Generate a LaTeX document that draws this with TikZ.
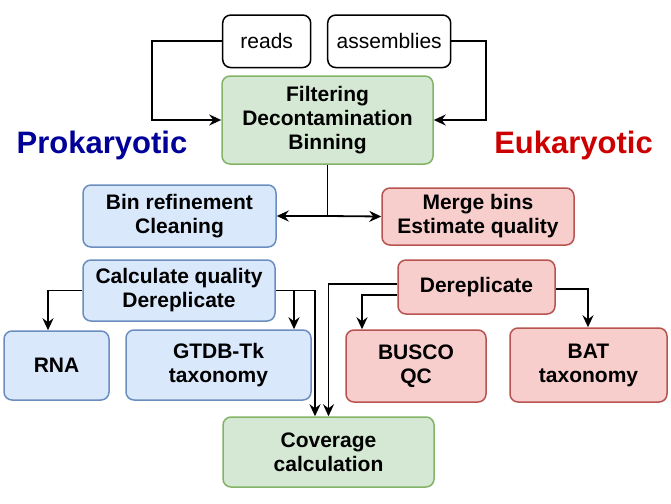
\documentclass[tikz,border=0pt]{standalone}
\usepackage{fontspec}
\setmainfont{Liberation Sans}
\usetikzlibrary{arrows.meta}
\definecolor{bfill}{HTML}{DAE8FC}\definecolor{bline}{HTML}{6C8EBF}
\definecolor{gfill}{HTML}{D5E8D4}\definecolor{gline}{HTML}{82B366}
\definecolor{rfill}{HTML}{F8CECC}\definecolor{rline}{HTML}{B85450}
\definecolor{prokc}{HTML}{000099}\definecolor{eukc}{HTML}{CC0000}
\newcommand\boxfont{\fontsize{21}{24}\selectfont\bfseries}
\begin{document}
\begin{tikzpicture}[x=1pt,y=-1pt,
  box/.style={draw, rounded corners=8pt, line width=1.5pt, align=center, inner sep=0pt, font=\boxfont},
  wbox/.style={box, fill=white, draw=black, font=\fontsize{21}{24}\selectfont},
  gbox/.style={box, fill=gfill, draw=gline},
  bbox/.style={box, fill=bfill, draw=bline},
  rbox/.style={box, fill=rfill, draw=rline},
  arr/.style={-{Stealth[length=12pt,width=11pt,inset=4pt]}, line width=1.8pt},
  ln/.style={line width=1.8pt}]
\useasboundingbox (0,0) rectangle (671,503);
% nodes
\node[wbox, minimum width=88pt, minimum height=52.5pt] (reads) at (266.7,41.3) {reads};
\node[wbox, minimum width=123pt, minimum height=52.5pt] (asm) at (389.2,41.3) {assemblies};
\node[gbox, minimum width=211pt, minimum height=88pt] (filt) at (327.5,120) {Filtering\\Decontamination\\Binning};
\node[bbox, minimum width=193pt, minimum height=62pt] (binref) at (179.5,216) {Bin refinement\\Cleaning};
\node[rbox, minimum width=192pt, minimum height=57pt] (merge) at (478,216.5) {Merge bins\\Estimate quality};
\node[bbox, minimum width=192pt, minimum height=61pt] (calc) at (179,290.5) {Calculate quality\\Dereplicate};
\node[rbox, minimum width=157pt, minimum height=54pt] (derep) at (476.5,287) {Dereplicate};
\node[bbox, minimum width=105pt, minimum height=69pt] (rna) at (56.5,365.5) {RNA};
\node[bbox, minimum width=185pt, minimum height=70pt] (gtdb) at (218.5,365) {GTDB-Tk\\taxonomy};
\node[rbox, minimum width=140pt, minimum height=72pt] (busco) at (416,366) {BUSCO\\QC};
\node[rbox, minimum width=157pt, minimum height=74pt] (bat) at (588.5,365) {BAT\\taxonomy};
\node[gbox, minimum width=211pt, minimum height=70pt] (cov) at (328.5,452) {Coverage\\calculation};
\node[anchor=base, text=prokc, font=\fontsize{31}{36}\selectfont\bfseries] (prok) at (102,153) {Prokaryotic};
\node[anchor=base, text=eukc, font=\fontsize{31}{36}\selectfont\bfseries] (euk) at (573.5,153) {Eukaryotic};
% connectors
\draw[arr] (reads.west) -- (152.3,41.3) |- (filt.west);
\draw[arr] (asm.east) -- (485.7,41.3) |- (filt.east);
\coordinate (j) at (327.5,216);
\draw[ln] (filt.south) -- (j);
\draw[arr] (j) -- (binref.east);
\draw[arr] (j) -- (merge.west);
\draw[arr] (calc.west) -| (48,0 |- rna.north);
\draw[arr] (calc.east) -| (294,0 |- gtdb.north);
\draw[arr] (calc.east) -| (315,0 |- cov.north);
\draw[arr] (derep.west |- 0,284) -| (328.5,0 |- cov.north);
\draw[arr] (derep.west |- 0,295) -| (362,0 |- busco.north);
\draw[arr] (derep.east |- 0,289) -| (588,0 |- bat.north);
\end{tikzpicture}
\end{document}
